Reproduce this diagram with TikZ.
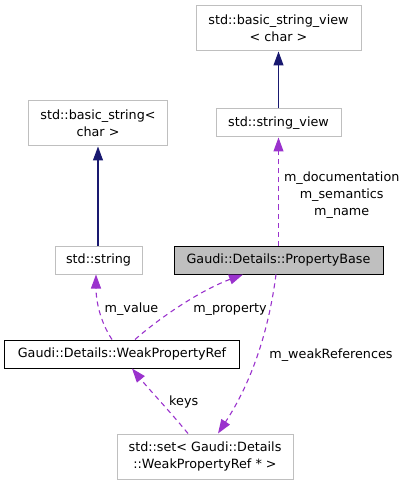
\documentclass[tikz,border=0pt]{standalone}
\usepackage{fontspec}
\setmainfont{DejaVu Sans}
\usetikzlibrary{arrows.meta,calc}
\definecolor{edgeblue}{HTML}{191970}
\definecolor{edgepurple}{HTML}{9A32CD}
\definecolor{boxgray}{HTML}{BFBFBF}
\definecolor{fillgray}{HTML}{BFBFBF}
\begin{document}
\begin{tikzpicture}[x=1bp,y=-1bp,
  font=\fontsize{12.8}{17}\selectfont,
  cls/.style={draw=boxgray,line width=1bp,fill=white,inner sep=0pt,align=center},
  mainbox/.style={draw=black,line width=1bp,fill=fillgray,inner sep=0pt,align=center},
  refbox/.style={draw=black,line width=1bp,fill=white,inner sep=0pt,align=center},
  inherit/.style={draw=edgeblue,line width=1.1bp,-{Triangle[length=14bp,width=10bp]}},
  usage/.style={draw=edgepurple,line width=1.1bp,dash pattern=on 5bp off 4bp,-{Triangle[length=14bp,width=10bp,fill=edgepurple]}},
  lbl/.style={inner sep=0pt,align=center,anchor=base}]
\useasboundingbox (0,0) rectangle (406,485);
\node[cls,minimum width=165bp,minimum height=45bp] (bsv) at (278.5,28.5) {std::basic\_string\_view\\\textless{} char \textgreater};
\node[cls,minimum width=138bp,minimum height=45bp] (bs) at (98,123.5) {std::basic\_string\textless\\char \textgreater};
\node[cls,minimum width=125bp,minimum height=28bp] (sv) at (278.5,123) {std::string\_view};
\node[cls,minimum width=87bp,minimum height=28bp] (str) at (98.5,260) {std::string};
\node[mainbox,minimum width=209bp,minimum height=28bp] (pb) at (278.5,260) {Gaudi::Details::PropertyBase};
\node[refbox,minimum width=234bp,minimum height=28bp] (wpr) at (122,354) {Gaudi::Details::WeakPropertyRef};
\node[cls,minimum width=176bp,minimum height=45bp] (set) at (205,456.5) {std::set\textless{} Gaudi::Details\\::WeakPropertyRef * \textgreater};

\draw[inherit] (sv) -- (bsv);
\draw[inherit] ([xshift=-0.5bp]str.north) -- (bs.south);
\draw[usage] (pb.north) -- (sv.south);
\draw[usage] ([xshift=-10bp]wpr.north) .. controls ($(wpr.north)+(-22,-18)$) and ($(str.south)+(-2.5,26)$) .. ([xshift=-2.5bp]str.south);
\draw[usage] ([xshift=13bp]wpr.north) .. controls ($(wpr.north)+(38,-22)$) and ($(pb.south)+(-78.5,16)$) .. ([xshift=-35.5bp]pb.south);
\draw[usage] ([xshift=-2.5bp]pb.south) .. controls ($(pb.south)+(-10.5,61)$) and ($(set.north)+(45,-49)$) .. ([xshift=13bp]set.north);
\draw[usage] ([xshift=-17bp]set.north) .. controls ($(set.north)+(-35,-22)$) and ($(wpr.south)+(28,22)$) .. ([xshift=10bp]wpr.south);

\node[lbl,anchor=center] (lsv) at (341.7,195.5) {m\_documentation\\m\_semantics\\m\_name};
\node[lbl] (lval) at (131.5,312) {m\_value};
\node[lbl] (lprop) at (230,312) {m\_property};
\node[lbl] (lweak) at (331,358) {m\_weakReferences};
\node[lbl] (lkeys) at (183.7,405) {keys};
\end{tikzpicture}
\end{document}
